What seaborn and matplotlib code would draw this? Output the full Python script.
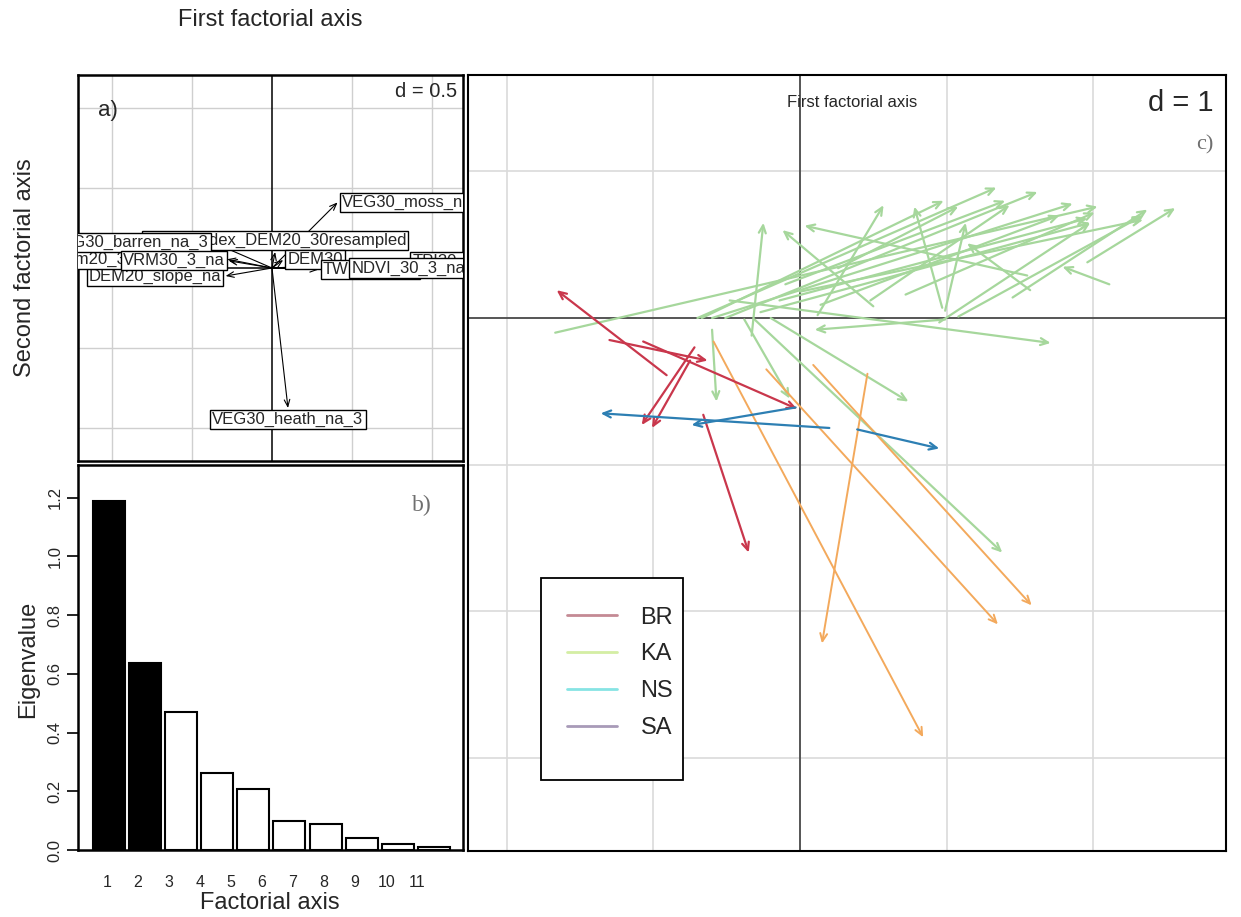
import numpy as np
import pandas as pd
import matplotlib
matplotlib.use("Agg")
import matplotlib.pyplot as plt
from matplotlib.lines import Line2D
from matplotlib.patches import Rectangle
import seaborn as sns

# -----------------------------
# Data
# -----------------------------
# a) variable arrows (grid d = 0.5), drawn in this order
var_names = ["TPI30_3_na", "DEM20_slope_na", "Aspect_dem20_30_resampled",
             "Slope_index_DEM20_30resampled", "VEG30_barren_na_3", "VRM30_3_na",
             "DEM30", "TWI30_3_na", "NDVI_30_3_na",
             "VEG30_moss_na_3", "VEG30_heath_na_3"]
var_x = [0.85, -0.29, -0.28, 0.02, -0.37, -0.27, 0.07, 0.29, 0.47, 0.41, 0.10]
var_y = [0.04, -0.05, 0.055, 0.10, 0.16, 0.045, 0.05, -0.01, 0.0, 0.41, -0.875]

# b) eigenvalues
axis_numbers = ["1", "2", "3", "4", "5", "6", "7", "8", "9", "10"]
eigenvalues = [1.19, 0.638, 0.469, 0.261, 0.208, 0.099, 0.089, 0.042, 0.020, 0.009]
kept_axes = 2
tick_labels = ["1", "2", "3", "4", "5", "6", "7", "8", "9", "10", "11"]

# c) site trajectories (grid d = 1)
ka_x0 = [-1.67, -0.70, -0.67, -0.60, -0.51, -0.33, 0.50, 1.55, 0.12, 0.97, 0.26,
         0.99, -0.27, -0.14, 0.00, 1.96, 1.45, 0.99, -0.48, -0.20, -0.31, -0.60,
         -0.38, 1.57, 0.95, 1.08, 0.48, 0.14, 0.72, -0.10, 2.11]
ka_y0 = [-0.10, 0.00, 0.00, 0.00, 0.00, -0.12, 0.08, 0.29, 0.02, 0.07, 0.34,
         0.05, 0.04, 0.12, 0.18, 0.38, 0.14, -0.01, 0.12, 0.00, -0.01, -0.08,
         -0.01, 0.19, -0.03, 0.01, 0.12, 0.09, 0.16, 0.23, 0.23]
ka_x1 = [2.03, 1.34, 0.98, 1.86, 1.62, -0.25, -0.12, 0.03, 0.57, 0.78, 1.08,
         1.13, 1.98, 1.96, 2.34, 2.56, 2.37, 0.10, 1.71, 0.74, 1.38, -0.57,
         -0.07, 1.14, 1.98, 2.34, 1.43, 1.77, 2.01, 1.40, 1.79]
ka_y1 = [0.76, 0.89, 0.80, 0.78, 0.86, 0.65, 0.60, 0.63, 0.77, 0.76, 0.76,
         0.65, 0.65, 0.68, 0.67, 0.75, 0.74, -0.08, -0.17, -0.57, -1.60, -0.57,
         -0.55, 0.51, 0.65, 0.70, 0.77, 0.70, 0.72, 0.80, 0.35]

sa_x0 = [-0.59, -0.23, 0.09, 0.46]
sa_y0 = [-0.16, -0.35, -0.32, -0.38]
sa_x1 = [0.84, 1.35, 1.58, 0.15]
sa_y1 = [-2.86, -2.09, -1.96, -2.22]

br_x0 = [-0.91, -1.30, -1.07, -0.72, -0.75, -0.66]
br_y0 = [-0.39, -0.15, -0.16, -0.20, -0.29, -0.66]
br_x1 = [-1.66, -0.63, -0.02, -1.08, -1.01, -0.35]
br_y1 = [0.19, -0.29, -0.62, -0.73, -0.75, -1.60]

ns_x0 = [0.20, -0.03, 0.39]
ns_y0 = [-0.75, -0.61, -0.76]
ns_x1 = [-1.36, -0.74, 0.95]
ns_y1 = [-0.65, -0.73, -0.89]

legend_sites = ["BR", "KA", "NS", "SA"]
legend_colors = ["#c48a94", "#d4eea4", "#86e4e4", "#a89ab8"]

# -----------------------------
# Style
# -----------------------------
sns.set_style("white")
plt.rcParams["font.family"] = ["Liberation Sans", "DejaVu Sans"]

W, H = 1241, 917
fig = plt.figure(figsize=(W / 100, H / 100), dpi=100)

ax_a = fig.add_axes([78 / W, 1 - 461 / H, 385 / W, 386 / H])
ax_b = fig.add_axes([78 / W, 1 - 850 / H, 385 / W, 385 / H])
ax_c = fig.add_axes([468 / W, 1 - 851 / H, 758 / W, 776 / H])

# -----------------------------
# a) correlation circle
# -----------------------------
ax_a.set_xlim(-1.2125, 1.194)
ax_a.set_ylim(-1.206, 1.206)
for g in [-1, -0.5, 0.5, 1]:
    ax_a.axvline(g, color="#cfcfcf", lw=1, zorder=0)
    ax_a.axhline(g, color="#cfcfcf", lw=1, zorder=0)
ax_a.axvline(0, color="black", lw=1.1, zorder=1)
ax_a.axhline(0, color="black", lw=1.1, zorder=1)

for x, y in zip(var_x, var_y):
    ax_a.annotate("", xy=(x, y), xytext=(0, 0),
                  arrowprops=dict(arrowstyle="->,head_length=0.5,head_width=0.2",
                                  color="black", lw=0.8, shrinkA=0, shrinkB=0),
                  zorder=2)

for i, (name, x, y) in enumerate(zip(var_names, var_x, var_y)):
    if abs(y) > 2 * abs(x):
        ha, va = "center", ("bottom" if y > 0 else "top")
        off = (0, 3 if y > 0 else -3)
    else:
        ha, va = ("left" if x > 0 else "right"), "center"
        off = (3 if x > 0 else -3, 0)
    ax_a.annotate(name, xy=(x, y), xytext=off, textcoords="offset points",
                  ha=ha, va=va, fontsize=12, clip_on=True, zorder=3 + i,
                  bbox=dict(boxstyle="square,pad=0.12", fc="white", ec="black", lw=1))

ax_a.text(0.984, 0.956, "d = 0.5", transform=ax_a.transAxes, ha="right", va="center", fontsize=14.5)
ax_a.text(0.052, 0.909, "a)", transform=ax_a.transAxes, ha="left", va="center", fontsize=16)
ax_a.set_xticks([])
ax_a.set_yticks([])
for s in ax_a.spines.values():
    s.set_color("black")
    s.set_linewidth(1.8)

# -----------------------------
# b) eigenvalue barplot
# -----------------------------
bar_colors = ["black"] * kept_axes + ["white"] * (len(eigenvalues) - kept_axes)
sns.barplot(x=axis_numbers, y=eigenvalues, hue=axis_numbers, palette=bar_colors,
            legend=False, edgecolor="black", linewidth=1.5, width=0.886,
            saturation=1, ax=ax_b)
ax_b.set_xlim(-0.86, 9.81)
ax_b.set_ylim(0, 1.311)
ax_b.set_xticks(np.arange(len(tick_labels)) * 0.86 - 0.06)
ax_b.set_xticklabels(tick_labels, fontsize=11.5)
ax_b.tick_params(axis="x", length=0, pad=18)
ax_b.set_yticks([0, 0.2, 0.4, 0.6, 0.8, 1.0, 1.2])
ax_b.set_yticklabels(["0.0", "0.2", "0.4", "0.6", "0.8", "1.0", "1.2"], fontsize=12)
ax_b.tick_params(axis="y", length=8, width=1.2, color="black", direction="out", pad=3,
                 labelrotation=90, left=True)
for lab in ax_b.get_yticklabels():
    lab.set_va("center")
ax_b.set_xlabel("")
ax_b.set_ylabel("")
ax_b.text(0.894, 0.896, "b)", transform=ax_b.transAxes, ha="center", va="center",
          fontsize=17, family="Liberation Serif", color="#6f6f6f")
for s in ax_b.spines.values():
    s.set_color("black")
    s.set_linewidth(1.8)

# -----------------------------
# c) site trajectories
# -----------------------------
ax_c.set_xlim(-2.265, 2.906)
ax_c.set_ylim(-3.636, 1.658)
for g in [-2, -1, 1, 2]:
    ax_c.axvline(g, color="#dadada", lw=1.2, zorder=0)
for g in [-3, -2, -1, 1]:
    ax_c.axhline(g, color="#dadada", lw=1.2, zorder=0)
ax_c.axvline(0, color="#555555", lw=1.4, zorder=1)
ax_c.axhline(0, color="#555555", lw=1.4, zorder=1)

groups = [
    (ka_x0, ka_y0, ka_x1, ka_y1, "#a6d79c", 1.6),
    (sa_x0, sa_y0, sa_x1, sa_y1, "#f3a95c", 1.4),
    (br_x0, br_y0, br_x1, br_y1, "#c9374c", 1.6),
    (ns_x0, ns_y0, ns_x1, ns_y1, "#2d7fb3", 1.6),
]
for x0, y0, x1, y1, col, lw in groups:
    for a, b, c, d in zip(x0, y0, x1, y1):
        ax_c.annotate("", xy=(c, d), xytext=(a, b),
                      arrowprops=dict(arrowstyle="->,head_length=0.55,head_width=0.25",
                                      color=col, lw=lw, shrinkA=0, shrinkB=0),
                      zorder=2)

# legend box drawn as in the reference (wider bottom margin)
ax_c.add_patch(Rectangle((0.0963, 0.0915), 0.1873, 0.2603, transform=ax_c.transAxes,
                         fc="white", ec="black", lw=1.3, zorder=4))
handles = [Line2D([], [], color=c, lw=2) for c in legend_colors]
leg = ax_c.legend(handles, legend_sites, loc="upper left", bbox_to_anchor=(0.131, 0.315),
                  fontsize=17, frameon=False, handlelength=2.1, handletextpad=1.0,
                  borderpad=0, labelspacing=0.63, borderaxespad=0)
leg.set_zorder(5)

ax_c.text(0.507, 0.964, "First factorial axis", transform=ax_c.transAxes,
          ha="center", va="center", fontsize=12)
ax_c.text(0.983, 0.964, "d = 1", transform=ax_c.transAxes, ha="right", va="center", fontsize=21)
ax_c.text(0.972, 0.910, "c)", transform=ax_c.transAxes, ha="center", va="center",
          fontsize=16, family="Liberation Serif", color="#6f6f6f")
ax_c.set_xticks([])
ax_c.set_yticks([])
for s in ax_c.spines.values():
    s.set_color("black")
    s.set_linewidth(1.5)

# -----------------------------
# Outer labels
# -----------------------------
fig.text(270 / W, 1 - 20 / H, "First factorial axis", ha="center", va="center", fontsize=17)
fig.text(25 / W, 1 - 268 / H, "Second factorial axis", ha="center", va="center",
         rotation=90, fontsize=17)
fig.text(28 / W, 1 - 659 / H, "Eigenvalue", ha="center", va="center", rotation=90, fontsize=17)
fig.text(270 / W, 1 - 903 / H, "Factorial axis", ha="center", va="center", fontsize=17)

fig.savefig("out.png", dpi=100, facecolor="white")
